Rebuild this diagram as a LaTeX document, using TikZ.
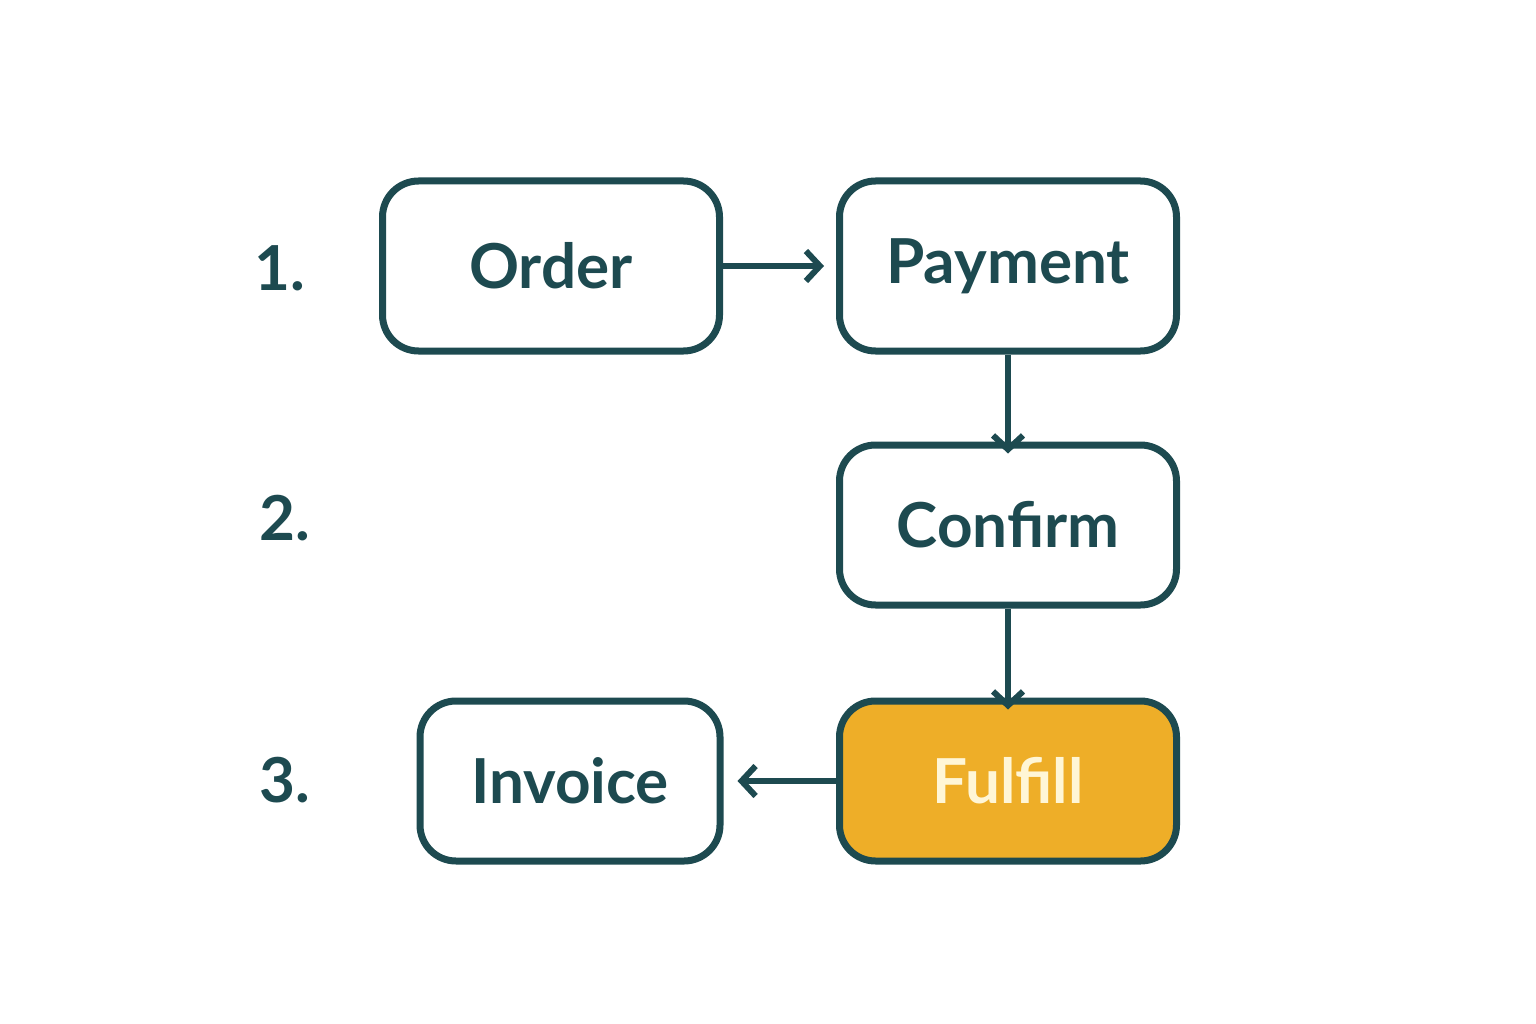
\documentclass[tikz,border=0pt]{standalone}
\usepackage{fontspec}
\setmainfont{Lato}
\usetikzlibrary{arrows.meta}
\definecolor{ink}{HTML}{1D4A50}
\definecolor{gold}{HTML}{EEAE28}
\definecolor{cream}{HTML}{FFF6D6}
\begin{document}
\begin{tikzpicture}[x=1pt,y=-1pt,
  box/.style={draw=ink,line width=7pt,rounded corners=36pt,minimum height=170pt,fill=white,
    font=\fontsize{62}{62}\selectfont\bfseries,text=ink,inner sep=0pt},
  lab/.style={font=\fontsize{62}{62}\selectfont\bfseries,text=ink},
  arr/.style={draw=ink,line width=6pt,-{Straight Barb[length=14pt,width=30pt,line width=6pt]}}]
\useasboundingbox (0,0) rectangle (1536,1024);
\node[box,minimum width=337pt] (order) at (551,266) {Order};
\node[box,minimum width=337pt] (payment) at (1008,266) {Payment};
\node[box,minimum width=337pt,minimum height=160pt] (confirm) at (1008,525) {Confirm};
\node[box,minimum width=337pt,minimum height=160pt,fill=gold,text=cream] (fulfill) at (1008,781) {Fulfill};
\node[box,minimum width=300pt,minimum height=160pt] (invoice) at (570,781) {Invoice};
\node[lab] (l1) at (280,268) {1.};
\node[lab] (l2) at (285,518) {2.};
\node[lab] (l3) at (285,780) {3.};
\draw[arr] (order.east) -- ([xshift=-12pt]payment.west);
\draw[arr] (payment.south) -- ([yshift=-12pt]confirm.north);
\draw[arr] (confirm.south) -- ([yshift=-12pt]fulfill.north);
\draw[arr] (fulfill.west) -- ([xshift=14pt]invoice.east);
\end{tikzpicture}
\end{document}
